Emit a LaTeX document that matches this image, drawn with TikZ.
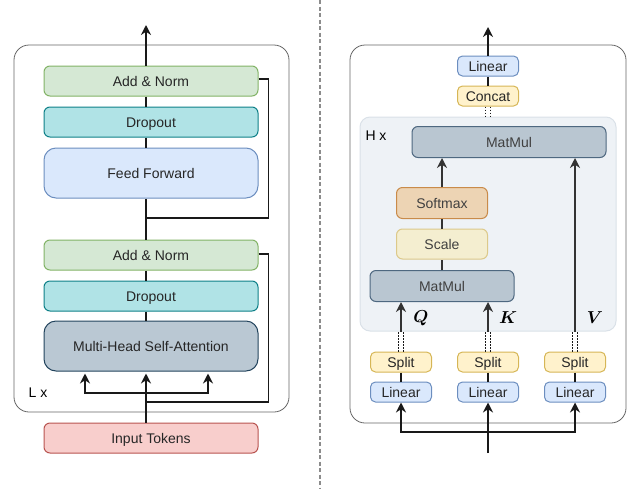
\documentclass[tikz,border=0pt]{standalone}
\usepackage{fontspec}
\usepackage{amsmath}
\setmainfont{Liberation Sans}
\usetikzlibrary{arrows.meta}

\definecolor{normfill}{HTML}{D5E8D4}\definecolor{normline}{HTML}{82B366}
\definecolor{dropfill}{HTML}{B0E3E6}\definecolor{dropline}{HTML}{0E8088}
\definecolor{linfill}{HTML}{DAE8FC}\definecolor{linline}{HTML}{6C8EBF}
\definecolor{attfill}{HTML}{BAC8D3}\definecolor{attline}{HTML}{23445D}
\definecolor{tokfill}{HTML}{F8CECC}\definecolor{tokline}{HTML}{B85450}
\definecolor{smfill}{HTML}{EDD4B4}\definecolor{smline}{HTML}{C98B4A}
\definecolor{scfill}{HTML}{F4EED0}\definecolor{scline}{HTML}{DCC98A}
\definecolor{mmfill}{HTML}{B9C6D1}\definecolor{mmline}{HTML}{4E6880}
\definecolor{ylwfill}{HTML}{FFF2CC}\definecolor{ylwline}{HTML}{D6B656}
\definecolor{headfill}{HTML}{EEF2F6}\definecolor{headline}{HTML}{DAE1E8}

\begin{document}
\begin{tikzpicture}[x=1pt,y=-1pt,
  font=\fontsize{14}{16}\selectfont,
  box/.style={rectangle,rounded corners=6pt,line width=1pt,text=black!85,inner sep=0pt,text height=10pt,text depth=0pt},
  normbox/.style={box,fill=normfill,draw=normline,minimum width=214pt,minimum height=30pt},
  dropbox/.style={box,fill=dropfill,draw=dropline,minimum width=214pt,minimum height=30pt},
  bigbox/.style={box,rounded corners=12pt,minimum width=214pt,minimum height=50pt},
  smallbox/.style={box,rounded corners=5pt,minimum width=61pt,minimum height=20pt},
  linbox/.style={smallbox,fill=linfill,draw=linline},
  splitbox/.style={smallbox,fill=ylwfill,draw=ylwline},
  midbox/.style={box,minimum height=31pt,text=black!75},
  frame/.style={draw=black!60,line width=0.8pt,rounded corners=15pt},
  conn/.style={line width=1.5pt,draw=black!90},
  arr/.style={conn,-{Stealth[length=10pt,width=10pt]}},
  inarr/.style={arr,draw=black!80},
  dots/.style={line width=1.2pt,dash pattern=on 1.5pt off 1.5pt,draw=black!90}]
\useasboundingbox (0,0) rectangle (643,488);

\draw[draw=black!45,line width=1.5pt,dash pattern=on 4pt off 2.5pt] (320,0) -- (320,488);

% encoder layer
\draw[frame] (14,45) rectangle (289,412);
\coordinate (spine) at (146,0);
\node[normbox] (addnormA) at (151,81) {Add \& Norm};
\node[dropbox] (dropA) at (151,122) {Dropout};
\node[bigbox,fill=linfill,draw=linline] (ffn) at (151,173) {Feed Forward};
\node[normbox] (addnormB) at (151,255) {Add \& Norm};
\node[dropbox] (dropB) at (151,296) {Dropout};
\node[bigbox,fill=attfill,draw=attline] (mhsa) at (151,346) {Multi-Head Self-Attention};
\node[normbox,fill=tokfill,draw=tokline] (tokens) at (151,438) {Input Tokens};
\node (layers) at (38,393) {L x};

\coordinate (outL) at (146,25);
\coordinate (resA) at (146,218);
\coordinate (resB) at (146,402);
\coordinate (fork) at (146,393);

\draw[arr] (addnormA.north -| spine) -- (outL);
\draw[conn] (addnormA.south -| spine) -- (dropA.north -| spine);
\draw[conn] (dropA.south -| spine) -- (ffn.north -| spine);
\draw[conn] (ffn.south -| spine) -- (addnormB.north -| spine);
\draw[conn] (addnormB.south -| spine) -- (dropB.north -| spine);
\draw[conn] (dropB.south -| spine) -- (mhsa.north -| spine);
\draw[conn] (addnormA.east) ++(0,-2) -- ++(10,0) |- (resA);
\draw[conn] (addnormB.east) ++(0,-1) -- ++(10,0) |- (resB);
\draw[arr] (tokens.north -| spine) -- ([yshift=-2pt]mhsa.south -| spine);
\foreach \dx in {-61,62}
{
	\draw[arr] (fork) -| ([xshift=\dx pt,yshift=-2pt]mhsa.south -| spine);
}

% multi-head attention
\draw[frame] (350,45) rectangle (626,423);
\node[box,rounded corners=10pt,fill=headfill,draw=headline,minimum width=256pt,minimum height=214pt] (hbox) at (488,224) {};
\node (heads) at (376,136) {H x};

\node[linbox] (linout) at (488,66) {Linear};
\node[splitbox] (concat) at (488,96) {Concat};
\node[midbox,fill=mmfill,draw=mmline,minimum width=194pt] (matmulA) at (509,142) {MatMul};
\node[midbox,fill=smfill,draw=smline,minimum width=91pt] (softmax) at (442,203) {Softmax};
\node[midbox,fill=scfill,draw=scline,minimum width=91pt,minimum height=30pt] (scale) at (442,244) {Scale};
\node[midbox,fill=mmfill,draw=mmline,minimum width=144pt] (matmulB) at (442,286) {MatMul};

\coordinate (outR) at (488,27);
\coordinate (inR) at (488,453);
\coordinate (forkR) at (488,432);

\draw[arr] (linout.north) -- (outR);
\draw[conn] (concat.north) -- (linout.south);
\foreach \dx in {-2.5,2.5}
{
	\draw[dots] ([xshift=\dx pt]concat.south) -- ([xshift=\dx pt]concat.south |- hbox.north);
}
\draw[inarr] (softmax.north) -- (softmax.north |- matmulA.south);
\draw[conn,draw=black!80] (scale.north) -- (softmax.south);
\draw[conn,draw=black!80] (matmulB.north) -- (scale.south);

\foreach \n/\x in {Q/401,K/488,V/575}
{
	\node[splitbox] (split\n) at (\x,362) {Split};
	\node[linbox] (lin\n) at (\x,392) {Linear};
	\draw[conn] (split\n) -- (lin\n);
	\foreach \dx in {-2.5,2.5}
	{
		\draw[dots] ([xshift=\dx pt]split\n.north) -- ([xshift=\dx pt]split\n.north |- hbox.south);
	}
	\node[font=\fontsize{16}{18}\selectfont] (lbl\n) at (\x+20,318) {$\boldsymbol{\n}$};
}
\draw[inarr] (splitQ.north |- hbox.south) -- (splitQ.north |- matmulB.south);
\draw[inarr] (splitK.north |- hbox.south) -- (splitK.north |- matmulB.south);
\draw[inarr] (splitV.north |- hbox.south) -- (splitV.north |- matmulA.south);

\draw[arr] (inR) -- (linK.south);
\draw[arr] (forkR) -| (linQ.south);
\draw[arr] (forkR) -| (linV.south);

\end{tikzpicture}
\end{document}
